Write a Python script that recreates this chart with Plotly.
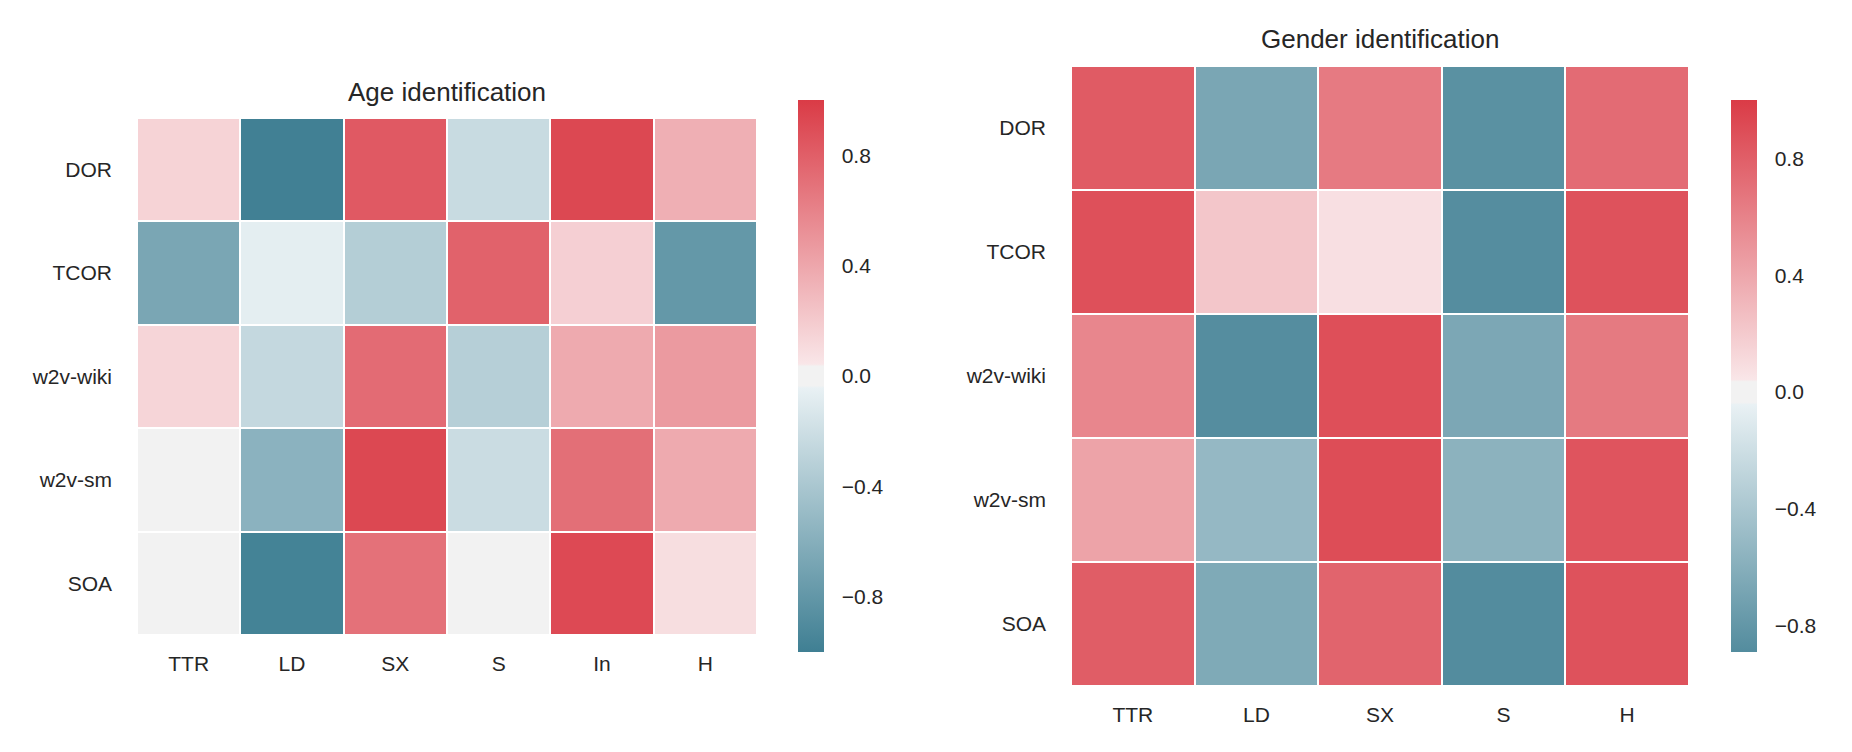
import plotly.graph_objects as go

# ---------------- data ----------------
age_rows = ["DOR", "TCOR", "w2v-wiki", "w2v-sm", "SOA"]
age_cols = ["TTR", "LD", "SX", "S", "In", "H"]
age_dor = [0.15, -0.99, 0.83, -0.23, 0.93, 0.35]
age_tcor = [-0.67, -0.07, -0.34, 0.78, 0.17, -0.79]
age_wiki = [0.14, -0.25, 0.73, -0.33, 0.38, 0.47]
age_sm = [0.02, -0.57, 0.93, -0.22, 0.71, 0.38]
age_soa = [0.0, -0.97, 0.70, -0.01, 0.92, 0.09]

gen_rows = ["DOR", "TCOR", "w2v-wiki", "w2v-sm", "SOA"]
gen_cols = ["TTR", "LD", "SX", "S", "H"]
gen_dor = [0.82, -0.67, 0.645, -0.85, 0.73]
gen_tcor = [0.88, 0.22, 0.08, -0.88, 0.87]
gen_wiki = [0.58, -0.88, 0.89, -0.66, 0.65]
gen_sm = [0.42, -0.52, 0.90, -0.57, 0.86]
gen_soa = [0.81, -0.64, 0.77, -0.89, 0.87]

age_range = (-1.0, 1.0)
gen_range = (-0.89, 1.0)
cbar_ticks = [-0.8, -0.4, 0.0, 0.4, 0.8]

# ---------------- style ----------------
FONT = "Liberation Sans, Arial, sans-serif"
TXT = "#262626"
W, H = 1852, 752

# diverging map (teal -> light -> gray band -> light -> red), anchors in t-space
ANCH = [
    (0.0, (63, 127, 147)),
    (122 / 255, (233, 241, 244)),
    (123 / 255, (242, 242, 242)),
    (132 / 255, (242, 242, 242)),
    (133 / 255, (249, 230, 232)),
    (1.0, (218, 59, 70)),
]


def cmap(t):
    for (t0, c0), (t1, c1) in zip(ANCH[:-1], ANCH[1:]):
        if t0 <= t <= t1:
            f = 0 if t1 == t0 else (t - t0) / (t1 - t0)
            return tuple(c0[i] + f * (c1[i] - c0[i]) for i in range(3))
    return ANCH[-1][1] if t > 1 else ANCH[0][1]


def rgb(c):
    return "rgb(%d,%d,%d)" % tuple(round(v) for v in c)


def scale_for(vmin, vmax, center=0.0):
    vr = max(vmax - center, center - vmin)
    to_t = lambda v: (v - (center - vr)) / (2 * vr)
    stops = [(0.0, rgb(cmap(to_t(vmin))))]
    for t, c in ANCH:
        v = center - vr + t * 2 * vr
        p = (v - vmin) / (vmax - vmin)
        if 1e-6 < p < 1 - 1e-6:
            stops.append((p, rgb(c)))
    stops.append((1.0, rgb(cmap(to_t(vmax)))))
    return [[p, c] for p, c in stops]


def fx(px):
    return px / W


def fy(py):
    return 1 - py / H


fig = go.Figure()

cb_common = dict(
    thickness=26, thicknessmode="pixels", lenmode="fraction",
    len=(652 - 100) / H, y=fy(376), yanchor="middle", xanchor="left",
    xpad=0, ypad=0, outlinewidth=0, tickvals=cbar_ticks, tickformat=".1f",
    ticks="outside", ticklen=14, tickcolor="rgba(0,0,0,0)",
    tickfont=dict(family=FONT, size=21, color=TXT),
)

fig.add_trace(go.Heatmap(
    z=[age_dor, age_tcor, age_wiki, age_sm, age_soa],
    x=age_cols, y=age_rows,
    zmin=age_range[0], zmax=age_range[1],
    colorscale=scale_for(*age_range),
    xgap=2, ygap=2,
    colorbar=dict(x=fx(798), **cb_common),
    xaxis="x", yaxis="y",
))

fig.add_trace(go.Heatmap(
    z=[gen_dor, gen_tcor, gen_wiki, gen_sm, gen_soa],
    x=gen_cols, y=gen_rows,
    zmin=gen_range[0], zmax=gen_range[1],
    colorscale=scale_for(*gen_range),
    xgap=2, ygap=2,
    colorbar=dict(x=fx(1731), **cb_common),
    xaxis="x2", yaxis="y2",
))

ax_common = dict(showgrid=False, zeroline=False, showline=False, ticks="",
                 tickfont=dict(family=FONT, size=21, color=TXT))

fig.update_layout(
    width=W, height=H,
    margin=dict(l=0, r=0, t=0, b=0),
    paper_bgcolor="white", plot_bgcolor="white",
    font=dict(family=FONT, color=TXT),
    xaxis=dict(domain=[fx(137), fx(757)], anchor="y", ticklabelstandoff=14, **ax_common),
    yaxis=dict(domain=[fy(635), fy(118)], anchor="x", autorange="reversed",
               ticklabelstandoff=24, **ax_common),
    xaxis2=dict(domain=[fx(1071), fx(1689)], anchor="y2", ticklabelstandoff=14, **ax_common),
    yaxis2=dict(domain=[fy(686), fy(66)], anchor="x2", autorange="reversed",
                ticklabelstandoff=24, **ax_common),
    annotations=[
        dict(text="Age identification", x=fx(447), y=fy(92), xref="paper", yref="paper",
             xanchor="center", yanchor="middle", showarrow=False,
             font=dict(family=FONT, size=26, color=TXT)),
        dict(text="Gender identification", x=fx(1380), y=fy(39), xref="paper", yref="paper",
             xanchor="center", yanchor="middle", showarrow=False,
             font=dict(family=FONT, size=26, color=TXT)),
    ],
)

fig.write_html("out.html")
